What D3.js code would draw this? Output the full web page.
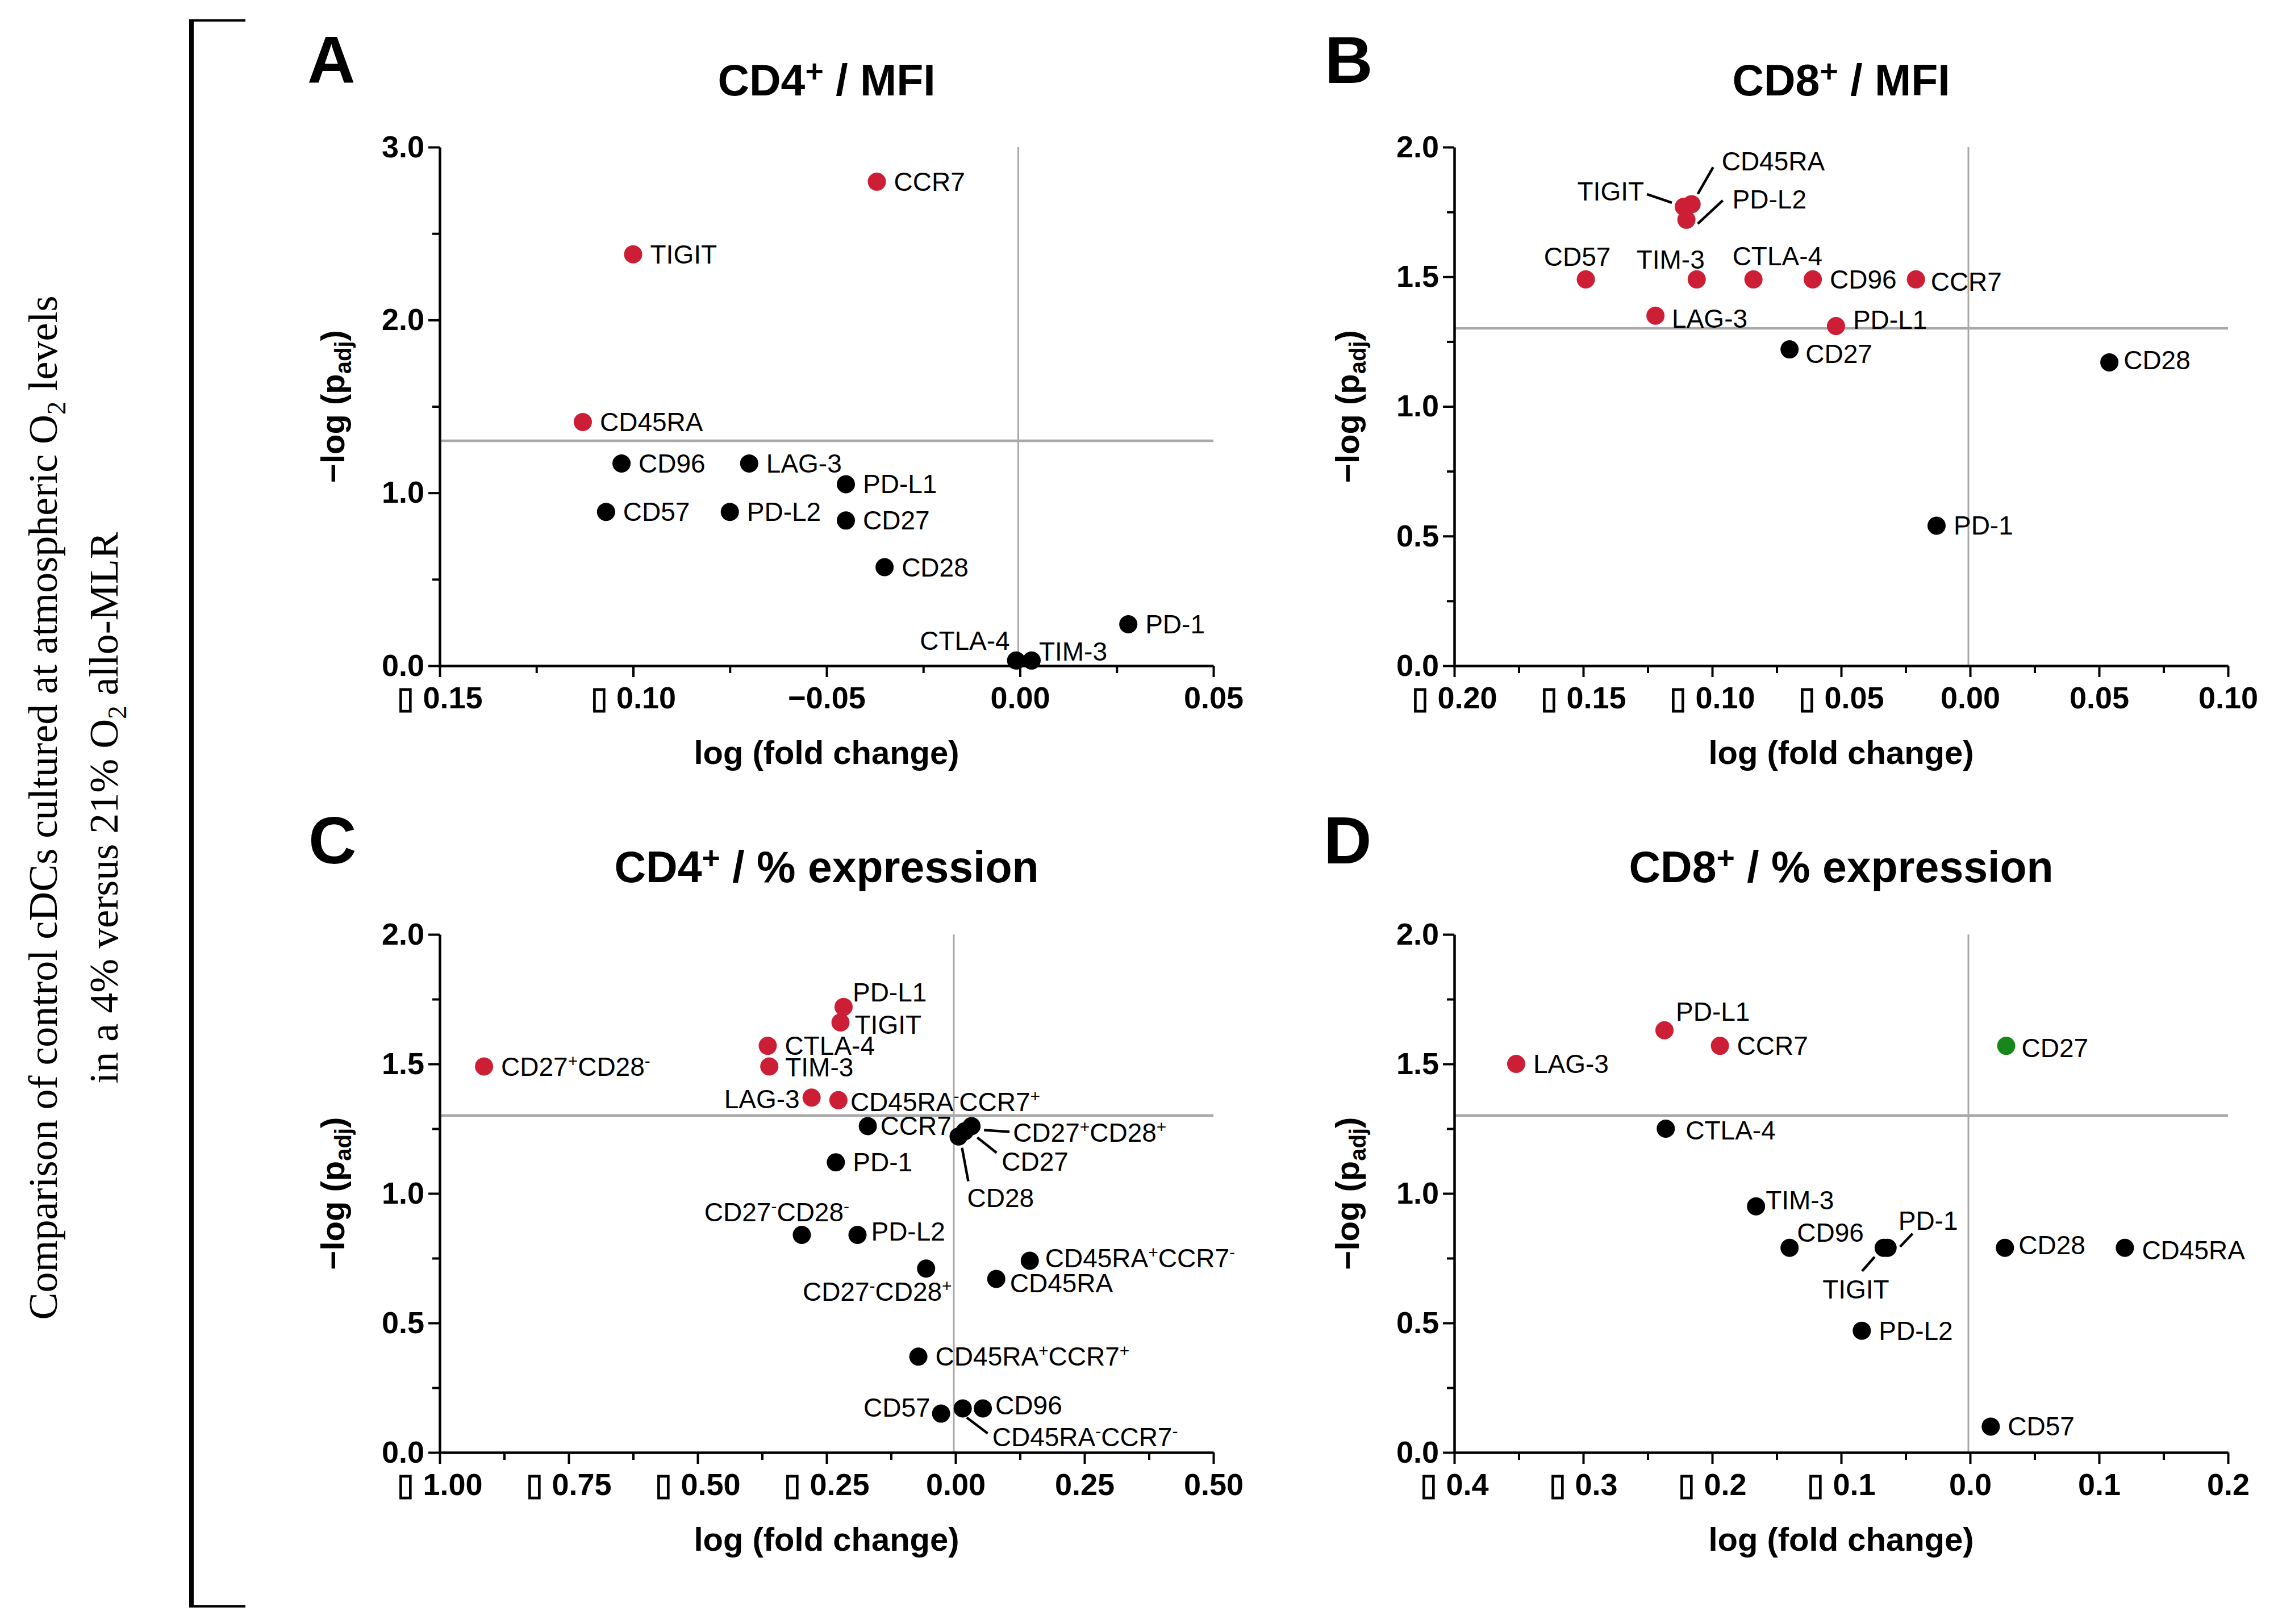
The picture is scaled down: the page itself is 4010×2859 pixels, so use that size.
<!DOCTYPE html>
<html>
<head>
<meta charset="utf-8">
<script src="https://cdn.jsdelivr.net/npm/d3@7"></script>
<style>
  html, body { margin: 0; padding: 0; background: #ffffff; }
  svg { display: block; }
  text { white-space: pre; }
</style>
</head>
<body>
<div id="vis"></div>
<script>
// Frame
const FRAME_WIDTH = 4010;
const FRAME_HEIGHT = 2859;

const RED = "#cc1f36";
const GREEN = "#17871a";
const BLACK = "#000000";
const GRAY = "#a9a9a9";
const SANS = "'Liberation Sans', Arial, Helvetica, sans-serif";
const SERIF = "'Liberation Serif', 'Times New Roman', serif";

// significance cut-off, -log10(0.05)
const P_CUTOFF = -Math.log10(0.05);

// ---------- DATA ----------
// A: CD4+ / MFI
const A_MARKERS = ["CCR7", "TIGIT", "CD45RA", "CD96", "LAG-3", "PD-L1", "CD57", "PD-L2", "CD27", "CD28", "PD-1", "CTLA-4", "TIM-3"];
const A_LOG_FC = [-0.037, -0.100, -0.113, -0.103, -0.070, -0.045, -0.107, -0.075, -0.045, -0.035, 0.028, -0.001, 0.003];
const A_NEG_LOG_P = [2.80, 2.38, 1.41, 1.17, 1.17, 1.05, 0.89, 0.89, 0.84, 0.57, 0.24, 0.03, 0.03];
const A_X_TICKS = [-0.15, -0.10, -0.05, 0, 0.05];
const A_X_TICK_LABELS = ["\u25AF 0.15", "\u25AF 0.10", "\u22120.05", "0.00", "0.05"];
const A_Y_TICKS = [0, 1, 2, 3];
const A_Y_TICK_LABELS = ["0.0", "1.0", "2.0", "3.0"];

// B: CD8+ / MFI
const B_MARKERS = ["TIGIT", "CD45RA", "PD-L2", "CD57", "TIM-3", "CTLA-4", "CD96", "CCR7", "LAG-3", "PD-L1", "CD27", "CD28", "PD-1"];
const B_LOG_FC = [-0.111, -0.108, -0.110, -0.149, -0.106, -0.084, -0.061, -0.021, -0.122, -0.052, -0.070, 0.054, -0.013];
const B_NEG_LOG_P = [1.77, 1.78, 1.72, 1.49, 1.49, 1.49, 1.49, 1.49, 1.35, 1.31, 1.22, 1.17, 0.54];
const B_X_TICKS = [-0.20, -0.15, -0.10, -0.05, 0, 0.05, 0.10];
const B_X_TICK_LABELS = ["\u25AF 0.20", "\u25AF 0.15", "\u25AF 0.10", "\u25AF 0.05", "0.00", "0.05", "0.10"];
const B_Y_TICKS = [0, 0.5, 1, 1.5, 2];
const B_Y_TICK_LABELS = ["0.0", "0.5", "1.0", "1.5", "2.0"];

// C: CD4+ / % expression
const C_MARKERS = ["CD27+CD28-", "PD-L1", "TIGIT", "CTLA-4", "TIM-3", "LAG-3", "CD45RA-CCR7+", "CCR7", "CD27+CD28+", "CD27", "CD28",
                   "PD-1", "CD27-CD28-", "PD-L2", "CD27-CD28+", "CD45RA+CCR7-", "CD45RA", "CD45RA+CCR7+", "CD57", "CD45RA-CCR7-", "CD96"];
const C_LOG_FC = [-0.914, -0.217, -0.223, -0.364, -0.361, -0.279, -0.227, -0.170, 0.031, 0.018, 0.006,
                  -0.232, -0.298, -0.190, -0.057, 0.144, 0.079, -0.072, -0.028, 0.014, 0.053];
const C_NEG_LOG_P = [1.49, 1.72, 1.66, 1.57, 1.49, 1.37, 1.36, 1.26, 1.26, 1.24, 1.22,
                     1.12, 0.84, 0.84, 0.71, 0.74, 0.67, 0.37, 0.15, 0.17, 0.17];
const C_X_TICKS = [-1.00, -0.75, -0.50, -0.25, 0, 0.25, 0.50];
const C_X_TICK_LABELS = ["\u25AF 1.00", "\u25AF 0.75", "\u25AF 0.50", "\u25AF 0.25", "0.00", "0.25", "0.50"];
const C_Y_TICKS = [0, 0.5, 1, 1.5, 2];
const C_Y_TICK_LABELS = ["0.0", "0.5", "1.0", "1.5", "2.0"];

// D: CD8+ / % expression
const D_MARKERS = ["LAG-3", "PD-L1", "CCR7", "CD27", "CTLA-4", "TIM-3", "CD96", "TIGIT", "PD-1", "CD28", "CD45RA", "PD-L2", "CD57"];
const D_LOG_FC = [-0.352, -0.237, -0.194, 0.028, -0.236, -0.166, -0.140, -0.067, -0.064, 0.027, 0.120, -0.084, 0.016];
const D_NEG_LOG_P = [1.50, 1.63, 1.57, 1.57, 1.25, 0.95, 0.79, 0.79, 0.79, 0.79, 0.79, 0.47, 0.10];
const D_X_TICKS = [-0.4, -0.3, -0.2, -0.1, 0, 0.1, 0.2];
const D_X_TICK_LABELS = ["\u25AF 0.4", "\u25AF 0.3", "\u25AF 0.2", "\u25AF 0.1", "0.0", "0.1", "0.2"];
const D_Y_TICKS = [0, 0.5, 1, 1.5, 2];
const D_Y_TICK_LABELS = ["0.0", "0.5", "1.0", "1.5", "2.0"];

// ---------- LABEL PLACEMENT (offset from dot: dx, dy, anchor) ----------
const DEFAULT_POS = [30, 16, "start"];
const A_LABEL_POS = {"CTLA-4": [-11, -19, "end"], "TIM-3": [13, 0, "start"]};
const B_LABEL_POS = {"TIGIT": [-70, -11, "end"], "CD45RA": [53, -59, "start"], "PD-L2": [81, -20, "start"],
                     "CD57": [-15, -24, "middle"], "TIM-3": [14, -19, "end"], "CTLA-4": [-37, -25, "start"],
                     "CCR7": [26, 20, "start"], "LAG-3": [29, 21, "start"], "PD-L1": [30, 5, "start"],
                     "CD27": [28, 24, "start"], "CD28": [25, 12, "start"]};
const C_LABEL_POS = {"PD-L1": [16, -10, "start"], "TIGIT": [25, 20, "start"], "TIM-3": [28, 17, "start"],
                     "LAG-3": [-21, 19, "end"], "CD45RA-CCR7+": [21, 19, "start"], "CCR7": [22, 16, "start"],
                     "CD27+CD28+": [73, 28, "start"], "CD27": [65, 69, "start"], "CD28": [15, 124, "start"],
                     "CD27-CD28-": [-44, -24, "middle"], "PD-L2": [24, 10, "start"], "CD27-CD28+": [-86, 57, "middle"],
                     "CD45RA+CCR7-": [27, 11, "start"], "CD45RA": [24, 24, "start"], "CD57": [-19, 5, "end"],
                     "CD96": [22, 11, "start"], "CD45RA-CCR7-": [52, 67, "start"]};
const D_LABEL_POS = {"PD-L1": [20, -17, "start"], "CTLA-4": [35, 19, "start"], "TIM-3": [17, 5, "start"],
                     "CD96": [13, -11, "start"], "PD-1": [19, -32, "start"], "TIGIT": [-49, 89, "middle"],
                     "CD28": [24, 11, "start"], "CD45RA": [30, 20, "start"], "CD27": [27, 20, "start"]};

// leader lines, offsets from the dot: x1, y1, x2, y2
const A_LEADERS = {};
const B_LEADERS = {"TIGIT": [-65, -22, -21, -7], "CD45RA": [38, -65, 11, -18], "PD-L2": [64, -34, 20, 7]};
const C_LEADERS = {"CD27+CD28+": [22, 7, 67, 10], "CD27": [22, 11, 56, 38], "CD28": [6, 20, 17, 79],
                   "CD45RA-CCR7-": [7, 16, 44, 44]};
const D_LEADERS = {"PD-1": [22, -2, 44, -25], "TIGIT": [-16, 16, -38, 41]};

// ---------- PANEL LAYOUT ----------
const PANELS = [
  {id: "A", title: "CD4+ / MFI", left: 774, right: 2136, top: 259, bottom: 1172, letterX: 541, letterY: 146, titleY: 168,
   names: A_MARKERS, xs: A_LOG_FC, ys: A_NEG_LOG_P, xTicks: A_X_TICKS, xLabels: A_X_TICK_LABELS,
   yTicks: A_Y_TICKS, yLabels: A_Y_TICK_LABELS, labelPos: A_LABEL_POS, leaders: A_LEADERS},
  {id: "B", title: "CD8+ / MFI", left: 2560, right: 3922, top: 259, bottom: 1172, letterX: 2332, letterY: 146, titleY: 168,
   names: B_MARKERS, xs: B_LOG_FC, ys: B_NEG_LOG_P, xTicks: B_X_TICKS, xLabels: B_X_TICK_LABELS,
   yTicks: B_Y_TICKS, yLabels: B_Y_TICK_LABELS, labelPos: B_LABEL_POS, leaders: B_LEADERS},
  {id: "C", title: "CD4+ / % expression", left: 774, right: 2136, top: 1645, bottom: 2557, letterX: 543, letterY: 1520, titleY: 1553,
   names: C_MARKERS, xs: C_LOG_FC, ys: C_NEG_LOG_P, xTicks: C_X_TICKS, xLabels: C_X_TICK_LABELS,
   yTicks: C_Y_TICKS, yLabels: C_Y_TICK_LABELS, labelPos: C_LABEL_POS, leaders: C_LEADERS},
  {id: "D", title: "CD8+ / % expression", left: 2560, right: 3922, top: 1645, bottom: 2557, letterX: 2330, letterY: 1520, titleY: 1553,
   names: D_MARKERS, xs: D_LOG_FC, ys: D_NEG_LOG_P, xTicks: D_X_TICKS, xLabels: D_X_TICK_LABELS,
   yTicks: D_Y_TICKS, yLabels: D_Y_TICK_LABELS, labelPos: D_LABEL_POS, leaders: D_LEADERS}
];

// side note text (serif, rotated)
const NOTE_LINES = [
  ["Comparison of control cDCs cultured at atmospheric O", "2", " levels"],
  ["in a 4% versus 21% O", "2", " allo-MLR"]
];

// ---------- SVG ----------
const SVG = d3.select("#vis")
              .append("svg")
                .attr("width", FRAME_WIDTH)
                .attr("height", FRAME_HEIGHT)
                .attr("viewBox", `0 0 ${FRAME_WIDTH} ${FRAME_HEIGHT}`);

SVG.append("rect")
   .attr("width", FRAME_WIDTH)
   .attr("height", FRAME_HEIGHT)
   .attr("fill", "#ffffff");

// write a string into a text element, raising "+"/"-" that end a marker name
function richText(sel, str, size, supScale, rise) {
  const parts = str.split(/([+-])(?=$|C| )/).filter(s => s !== "");
  let raised = false;
  parts.forEach((s) => {
    const isSup = (s === "+" || s === "-");
    const t = sel.append("tspan").text(s);
    if (isSup && !raised) { t.attr("dy", -rise); raised = true; }
    if (!isSup && raised) { t.attr("dy", rise); raised = false; }
    if (isSup) t.attr("font-size", size * supScale);
  });
}

function dotColor(x, y) {
  if (y <= P_CUTOFF) return BLACK;
  return x < 0 ? RED : GREEN;
}

function midpoints(arr) {
  const out = [];
  for (let i = 0; i < arr.length - 1; i++) out.push((arr[i] + arr[i + 1]) / 2);
  return out;
}

function drawPanel(p) {
  const X = d3.scaleLinear()
              .domain([p.xTicks[0], p.xTicks[p.xTicks.length - 1]])
              .range([p.left, p.right]);
  const Y = d3.scaleLinear()
              .domain([0, p.yTicks[p.yTicks.length - 1]])
              .range([p.bottom, p.top]);
  const g = SVG.append("g");

  // reference lines: x = 0 and p = 0.05
  g.append("line")
     .attr("x1", X(0) - 3).attr("x2", X(0) - 3)
     .attr("y1", Y(p.yTicks[p.yTicks.length - 1])).attr("y2", Y(0))
     .attr("stroke", GRAY).attr("stroke-width", 3);
  g.append("line")
     .attr("x1", p.left).attr("x2", p.right)
     .attr("y1", Y(P_CUTOFF)).attr("y2", Y(P_CUTOFF))
     .attr("stroke", GRAY).attr("stroke-width", 4.5);

  // x axis, major + minor ticks
  const xAxis = g.append("g")
     .attr("transform", `translate(0,${p.bottom})`)
     .call(d3.axisBottom(X).tickValues(p.xTicks)
             .tickFormat((d, i) => p.xLabels[i])
             .tickSize(20).tickSizeOuter(0).tickPadding(17));
  const xMinor = g.append("g")
     .attr("transform", `translate(0,${p.bottom})`)
     .call(d3.axisBottom(X).tickValues(midpoints(p.xTicks)).tickFormat("")
             .tickSize(13).tickSizeOuter(0));
  xMinor.select(".domain").remove();

  // y axis, major + minor ticks
  const yAxis = g.append("g")
     .attr("transform", `translate(${p.left},0)`)
     .call(d3.axisLeft(Y).tickValues(p.yTicks)
             .tickFormat((d, i) => p.yLabels[i])
             .tickSize(20).tickSizeOuter(0).tickPadding(7));
  const yMinor = g.append("g")
     .attr("transform", `translate(${p.left},0)`)
     .call(d3.axisLeft(Y).tickValues(midpoints(p.yTicks)).tickFormat("")
             .tickSize(13).tickSizeOuter(0));
  yMinor.select(".domain").remove();

  [xAxis, xMinor, yAxis, yMinor].forEach((a) => {
    a.attr("font-size", 54)
     .attr("font-family", SANS)
     .attr("font-weight", "bold")
     .attr("color", BLACK);
    a.select(".domain").attr("stroke-width", 4.5);
    a.selectAll(".tick line").attr("stroke-width", 4);
  });

  // points
  const pts = p.names.map((n, i) => ({name: n, x: p.xs[i], y: p.ys[i]}));

  g.selectAll(".pt")
     .data(pts)
     .enter()
     .append("circle")
       .attr("class", "pt")
       .attr("cx", d => X(d.x))
       .attr("cy", d => Y(d.y))
       .attr("r", 16)
       .attr("fill", d => dotColor(d.x, d.y));

  // leader lines
  pts.filter(d => p.leaders[d.name]).forEach((d) => {
    const L = p.leaders[d.name];
    g.append("line")
       .attr("x1", X(d.x) + L[0]).attr("y1", Y(d.y) + L[1])
       .attr("x2", X(d.x) + L[2]).attr("y2", Y(d.y) + L[3])
       .attr("stroke", BLACK).attr("stroke-width", 4.5);
  });

  // point labels
  pts.forEach((d) => {
    const pos = p.labelPos[d.name] || DEFAULT_POS;
    const t = g.append("text")
       .attr("x", X(d.x) + pos[0])
       .attr("y", Y(d.y) + pos[1])
       .attr("text-anchor", pos[2] || "start")
       .attr("font-family", SANS)
       .attr("font-size", 46)
       .attr("fill", BLACK);
    richText(t, d.name, 46, 0.65, 16);
  });

  // panel letter
  g.append("text")
     .attr("x", p.letterX).attr("y", p.letterY)
     .attr("font-family", SANS).attr("font-weight", "bold")
     .attr("font-size", 117)
     .text(p.id);

  // title
  const title = g.append("text")
     .attr("x", (p.left + p.right) / 2).attr("y", p.titleY)
     .attr("text-anchor", "middle")
     .attr("font-family", SANS).attr("font-weight", "bold")
     .attr("font-size", 77);
  richText(title, p.title, 77, 0.72, 24);

  // x title
  g.append("text")
     .attr("x", (p.left + p.right) / 2).attr("y", p.bottom + 173)
     .attr("text-anchor", "middle")
     .attr("font-family", SANS).attr("font-weight", "bold")
     .attr("font-size", 58)
     .text("log (fold change)");

  // y title
  const yt = g.append("text")
     .attr("transform", `translate(${p.left - 168},${(p.top + p.bottom) / 2}) rotate(-90)`)
     .attr("text-anchor", "middle")
     .attr("font-family", SANS).attr("font-weight", "bold")
     .attr("font-size", 58);
  yt.append("tspan").text("\u2212log (p");
  yt.append("tspan").attr("font-size", 40).attr("dy", 12).text("adj");
  yt.append("tspan").attr("dy", -12).text(")");
}

PANELS.forEach(drawPanel);

// bracket grouping the four panels
SVG.append("line")
   .attr("x1", 337).attr("x2", 337)
   .attr("y1", 34).attr("y2", 2830)
   .attr("stroke", BLACK).attr("stroke-width", 8);
SVG.append("path")
   .attr("d", "M 432,36 L 341,36 M 432,2828 L 341,2828")
   .attr("fill", "none").attr("stroke", BLACK).attr("stroke-width", 4);

// rotated side note
const NOTE_X = [100, 207];
NOTE_LINES.forEach((line, i) => {
  const t = SVG.append("text")
     .attr("transform", `translate(${NOTE_X[i]},1422) rotate(-90)`)
     .attr("text-anchor", "middle")
     .attr("font-family", SERIF)
     .attr("font-size", 72)
     .attr("fill", BLACK);
  t.append("tspan").text(line[0]);
  t.append("tspan").attr("font-size", 47).attr("dy", 15).text(line[1]);
  t.append("tspan").attr("dy", -15).text(line[2]);
});
</script>
</body>
</html>
